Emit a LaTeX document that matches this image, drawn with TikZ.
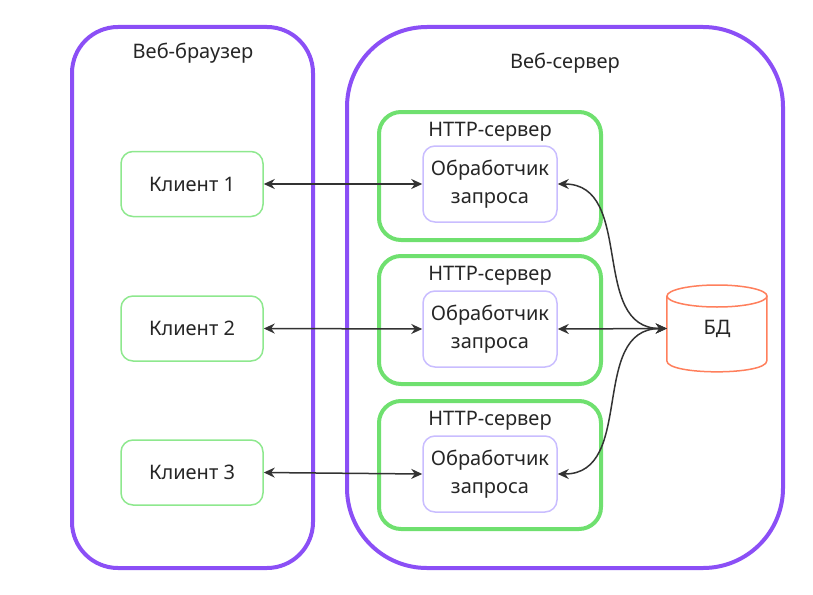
\documentclass[tikz,border=0pt]{standalone}
\usepackage{fontspec}
\setmainfont{Noto Sans}
\usetikzlibrary{arrows.meta}
\definecolor{zoneviolet}{HTML}{8B4FF6}
\definecolor{srvgreen}{HTML}{6FE06F}
\definecolor{clgreen}{HTML}{8EE88E}
\definecolor{hdlilac}{HTML}{C9BDFF}
\definecolor{dborange}{HTML}{FF7F5C}
\definecolor{linkgray}{HTML}{333333}

\begin{document}
\begin{tikzpicture}[x=1pt,y=-1pt,>={Stealth[length=11pt,width=10pt]},
	font=\fontsize{20}{28}\selectfont, text=black!85,
	zone/.style={draw=zoneviolet, line width=4pt, minimum width=#1},
	httpbox/.style={draw=srvgreen, line width=4pt, rounded corners=22pt, minimum width=222pt, minimum height=128pt},
	client/.style={draw=clgreen, line width=1.5pt, rounded corners=12pt, minimum width=142pt, minimum height=65pt},
	handler/.style={draw=hdlilac, line width=1.5pt, rounded corners=12pt, minimum width=134pt, minimum height=76pt, align=center},
	link/.style={<->, draw=linkgray, line width=1.5pt}]
	
	\useasboundingbox (0,0) rectangle (813,594);
	
	% Draw the two zones
	\node[zone=241pt, minimum height=541pt, rounded corners=46pt] (browser) at (192.5,297.5) {};
	\node[zone=436pt, minimum height=541pt, rounded corners=80pt] (server) at (565,297.5) {};
	\node (browserlbl) at (193,53) {Веб-браузер};
	\node (serverlbl) at (565,63) {Веб-сервер};
	
	% Draw the clients
	\node[client] (c1) at (192,184) {Клиент 1};
	\node[client] (c2) at (192,328.5) {Клиент 2};
	\node[client] (c3) at (192,472.5) {Клиент 3};
	
	% Draw the HTTP servers with their handlers
	\node[httpbox] (s1) at (490,176) {};
	\node[httpbox] (s2) at (490,320) {};
	\node[httpbox] (s3) at (490,465) {};
	\node (s1lbl) at (490,132) {HTTP-сервер};
	\node (s2lbl) at (490,276) {HTTP-сервер};
	\node (s3lbl) at (490,421) {HTTP-сервер};
	\node[handler] (h1) at (490,184) {Обработчик\\запроса};
	\node[handler] (h2) at (490,329) {Обработчик\\запроса};
	\node[handler] (h3) at (490,474) {Обработчик\\запроса};
	
	% Draw the database
	\node[minimum width=100pt, minimum height=87pt] (db) at (717,328.5) {БД};
	\draw[dborange, line width=1.5pt] (db.north west) ++(0,11) -- ++(0,65)
		.. controls ++(0,14.7) and ++(0,14.7) .. ++(100,0) -- ++(0,-65);
	\draw[dborange, line width=1.5pt, fill=white] (717,296) ellipse[x radius=50, y radius=11];
	
	% Draw the requests
	\draw[link] (c1.east) -- (h1.west);
	\draw[link] (c2.east) -- (h2.west);
	\draw[link] (c3.east) -- (h3.west);
	\draw[link] (h1.east) to[out=0, in=180, looseness=1.1] (db.west);
	\draw[link] (h2.east) -- (db.west);
	\draw[link] (h3.east) to[out=0, in=180, looseness=1.1] (db.west);
	
\end{tikzpicture}
\end{document}
